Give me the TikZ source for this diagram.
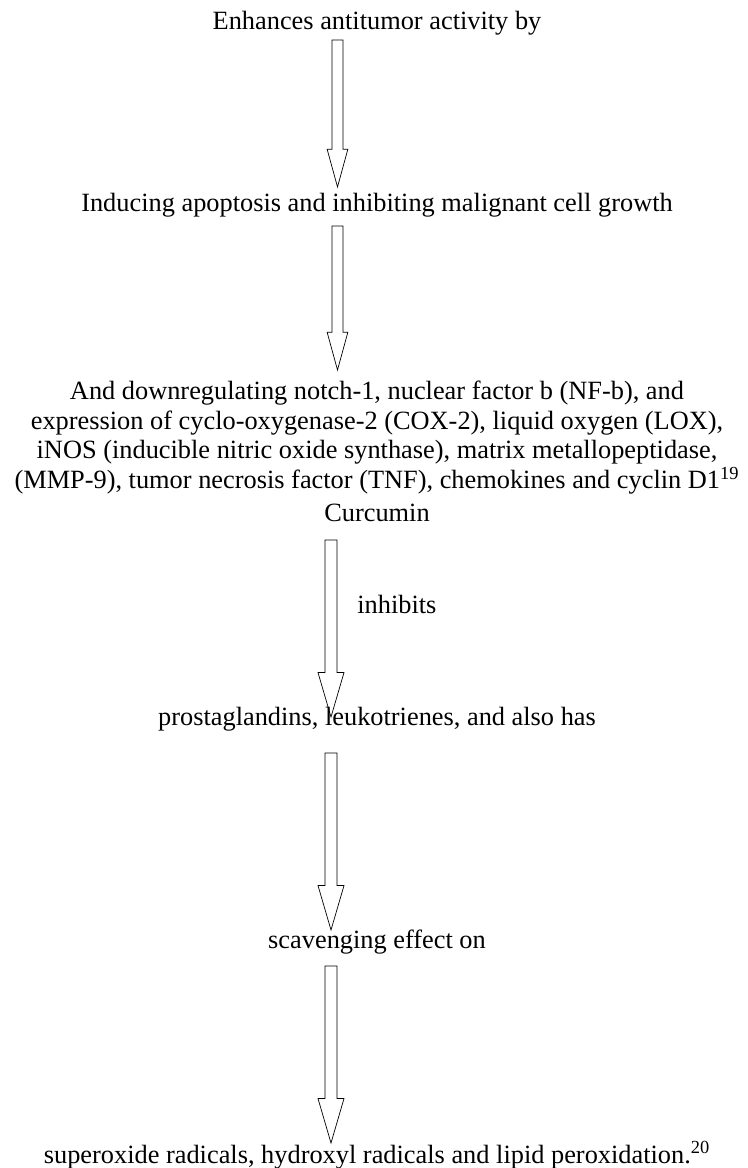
\documentclass[tikz,border=0pt]{standalone}
\usepackage{fontspec}
\setmainfont{Liberation Serif}
\usetikzlibrary{calc}

\tikzset{
  bashaft/.store in=\bashaft, bahead/.store in=\bahead, balen/.store in=\balen,
  bashaft=3.13pt, bahead=5.9pt, balen=21.5pt,
  blockarrow/.style={draw, line width=0.9pt, to path={
    let \p1=(\tikztostart), \p2=(\tikztotarget) in
      (\x1-\bashaft,\y1) -- (\x1+\bashaft,\y1) -- (\x1+\bashaft,\y2+\balen)
      -- (\x1+\bahead,\y2+\balen) -- (\x2,\y2) -- (\x1-\bahead,\y2+\balen)
      -- (\x1-\bashaft,\y2+\balen) -- cycle}},
  widearrow/.style={bashaft=3.41pt, bahead=7.4pt, balen=25.3pt},
  txt/.style={anchor=base, inner sep=0pt}
}

\begin{document}
\begin{tikzpicture}[x=0.02cm, y=-0.02cm, font=\fontsize{15}{16.8}\selectfont]

  \useasboundingbox (0,0) rectangle (747,1168);

  \node[txt] (enh) at (377,30) {Enhances antitumor activity by};
    \coordinate (a1s) at (337.5,40);
    \coordinate (a1e) at (337.5,187);
    \draw (a1s) to[blockarrow] (a1e);
  \node[txt] (ind) at (377,212) {Inducing apoptosis and inhibiting malignant cell growth};
    \coordinate (a2s) at (337.5,226);
    \coordinate (a2e) at (337.5,370);
    \draw (a2s) to[blockarrow] (a2e);
  % base of a multi-line node = last line
  \node[txt, align=center] (down) at (377,488.5)
    {And downregulating notch-1, nuclear factor b (NF-b), and\\
     expression of cyclo-oxygenase-2 (COX-2), liquid oxygen (LOX),\\
     iNOS (inducible nitric oxide synthase), matrix metallopeptidase,\\
     (MMP-9), tumor necrosis factor (TNF), chemokines and cyclin D1\textsuperscript{19}};
  \node[txt] (cur) at (377,521) {Curcumin};
    \coordinate (a3s) at (331,540);
    \coordinate (a3e) at (331,717);
    \draw (a3s) to[blockarrow, widearrow] (a3e);
    \node[txt, anchor=base west] (inh) at (357,613) {inhibits};
  \node[txt] (pro) at (377,725) {prostaglandins, leukotrienes, and also has};
    \coordinate (a4s) at (331,753);
    \coordinate (a4e) at (331,930);
    \draw (a4s) to[blockarrow, widearrow] (a4e);
  \node[txt] (sca) at (377,948) {scavenging effect on};
    \coordinate (a5s) at (331,966);
    \coordinate (a5e) at (331,1143);
    \draw (a5s) to[blockarrow, widearrow] (a5e);
  \node[txt] (sup) at (377,1163) {superoxide radicals, hydroxyl radicals and lipid peroxidation.\textsuperscript{20}};

\end{tikzpicture}
\end{document}
